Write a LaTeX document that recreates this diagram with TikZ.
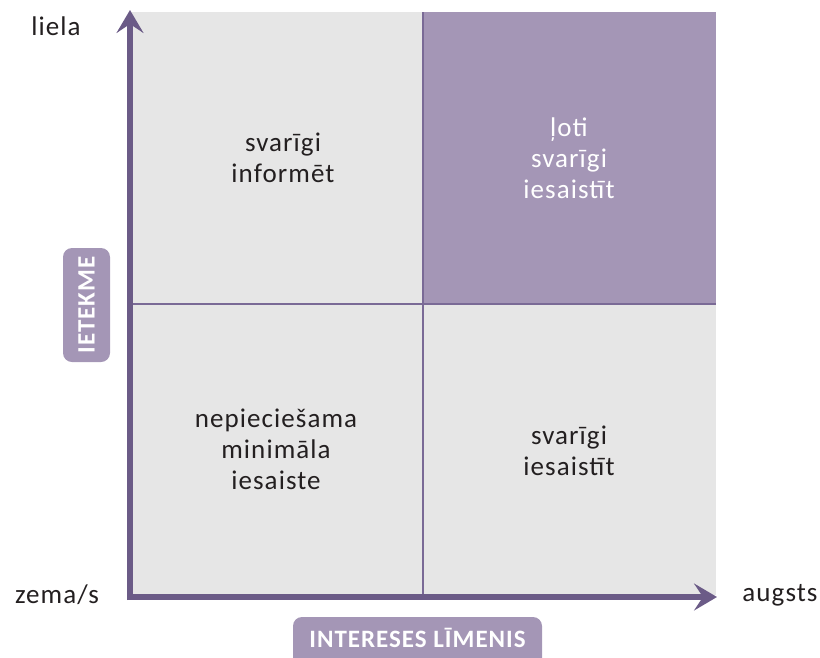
\documentclass[tikz,border=0pt]{standalone}
\usepackage{fontspec}
\setmainfont[LetterSpace=4]{Carlito}
\usetikzlibrary{arrows.meta}
\definecolor{qgray}{HTML}{E6E6E6}
\definecolor{qpurple}{HTML}{A496B6}
\definecolor{axispurple}{HTML}{6B5B87}
\definecolor{gridpurple}{HTML}{7A6A96}
\definecolor{txt}{HTML}{231F20}
\tikzset{
  axisline/.style={draw=axispurple, line width=6pt, -{Stealth[length=23pt,width=27pt,inset=9pt]}},
  qtext/.style={align=center, text=txt, font=\fontsize{27}{31}\selectfont},
  qtextw/.style={align=center, text=white, font=\fontsize{27}{31}\selectfont},
  endtext/.style={text=txt, font=\fontsize{27}{31}\selectfont},
  labelbox/.style={fill=qpurple, rounded corners=9pt, inner sep=0pt},
  labeltext/.style={text=white, font=\fontsize{25}{30}\bfseries\selectfont},
}
\begin{document}
\begin{tikzpicture}[x=1pt,y=-1pt]
\useasboundingbox (0,0) rectangle (820,657);
% quadrants
\fill[qgray] (132,12) rectangle (716,595);
\fill[qpurple] (423,12) rectangle (716,304);
\draw[gridpurple, line width=2pt] (423,12) -- (423,595);
\draw[gridpurple, line width=2pt] (132,304) -- (716,304);
% axes
\coordinate (ytop) at (130,10);
\coordinate (xright) at (717,597);
\coordinate (ystart) at (130,600);
\coordinate (xstart) at (127,597);
\draw[axisline] (ystart) -- (ytop);
\draw[axisline] (xstart) -- (xright);
% quadrant texts
\node[qtext] (ul) at (283,158) {svarīgi\\informēt};
\node[qtextw] (ur) at (569,158) {ļoti\\svarīgi\\iesaistīt};
\node[qtext] (ll) at (276,449) {nepieciešama\\minimāla\\iesaiste};
\node[qtext] (lr) at (569,451) {svarīgi\\iesaistīt};
% axis end labels
\node[endtext] (liela) at (56,26) {liela};
\node[endtext] (zema) at (57,595) {zema/s};
\node[endtext] (augsts) at (780,595) {augsts};
% axis titles
\node[labelbox, minimum width=249pt, minimum height=50pt] (xlab) at (417.5,642) {};
\node[labeltext] (xlabtext) at (417.5,638) {INTERESES LĪMENIS};
\node[labelbox, minimum width=47pt, minimum height=114pt] (ylab) at (86.5,305) {};
\node[labeltext, rotate=90] (ylabtext) at (ylab.center) {IETEKME};
\end{tikzpicture}
\end{document}
